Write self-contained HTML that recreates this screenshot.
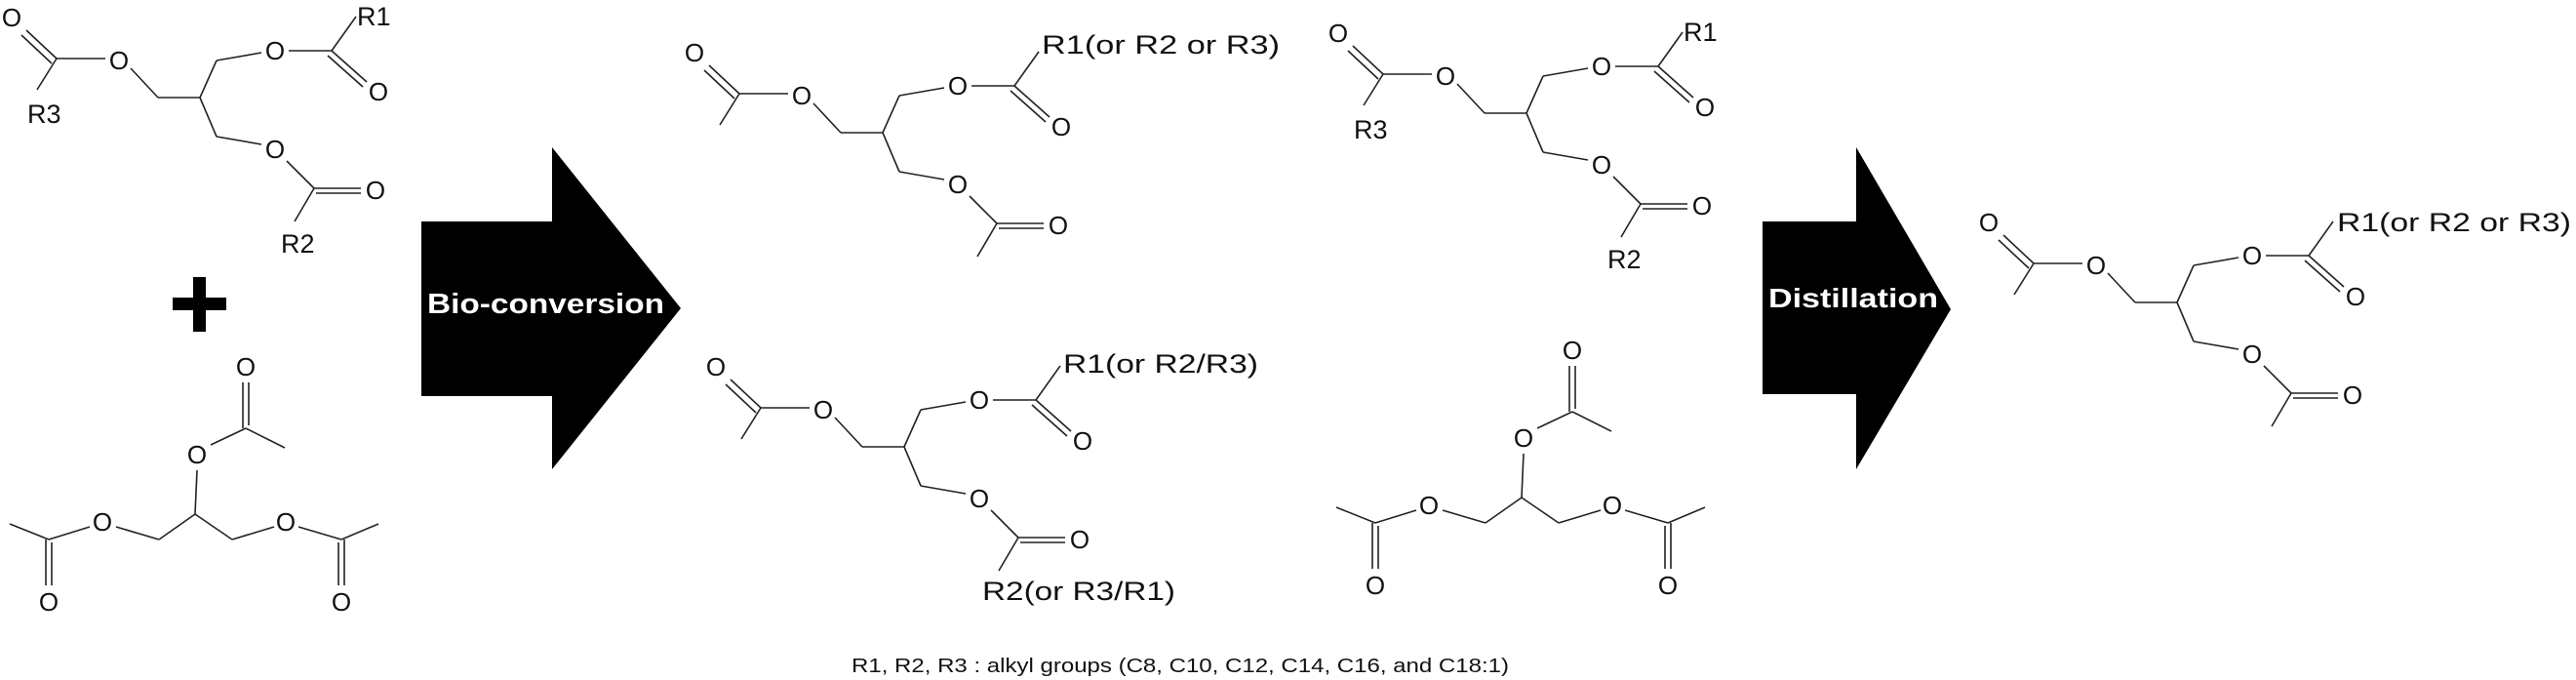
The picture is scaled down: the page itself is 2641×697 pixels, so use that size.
<!DOCTYPE html>
<html><head><meta charset="utf-8"><style>
html,body{margin:0;padding:0;background:#fff;}
svg{display:block;}
text{font-family:"Liberation Sans",sans-serif;fill:#111;}
.o{font-size:26px;text-anchor:middle;dominant-baseline:central;}
.r{font-size:27px;dominant-baseline:central;}
</style></head><body>
<svg width="2641" height="697" viewBox="0 0 2641 697" xmlns="http://www.w3.org/2000/svg">
<defs>
<g id="core" stroke="#222" stroke-width="1.6" fill="none">
  <line x1="58" y1="60" x2="27" y2="31"/><line x1="53" y1="65" x2="22" y2="36"/>
  <line x1="58" y1="60" x2="108" y2="60"/>
  <line x1="134" y1="70" x2="162" y2="100"/><line x1="162" y1="100" x2="205" y2="100"/>
  <line x1="205" y1="100" x2="222" y2="62"/><line x1="222" y1="62" x2="268" y2="54"/>
  <line x1="296" y1="52" x2="340" y2="52"/>
  <line x1="340" y1="52" x2="376" y2="84"/><line x1="336" y1="57" x2="372" y2="89"/>
  <line x1="205" y1="100" x2="222" y2="140"/><line x1="222" y1="140" x2="268" y2="148"/>
  <line x1="294" y1="165" x2="322" y2="193"/>
  <line x1="322" y1="193" x2="370" y2="193"/><line x1="324" y1="198" x2="370" y2="198"/>
  <line x1="340" y1="52" x2="365" y2="17"/>
  <line x1="58" y1="60" x2="38" y2="92"/>
  <line x1="322" y1="193" x2="302" y2="227"/>
</g>
<g id="tri" stroke="#222" stroke-width="1.6" fill="none">
  <line x1="249" y1="392" x2="249" y2="439"/><line x1="255" y1="392" x2="255" y2="436"/>
  <line x1="252" y1="439" x2="292" y2="459"/><line x1="252" y1="439" x2="216" y2="456"/>
  <line x1="202" y1="482" x2="200" y2="527"/>
  <line x1="200" y1="527" x2="163" y2="553"/><line x1="163" y1="553" x2="119" y2="540"/>
  <line x1="92" y1="540" x2="50" y2="553"/><line x1="50" y1="553" x2="10" y2="537"/>
  <line x1="47" y1="553" x2="47" y2="600"/><line x1="53" y1="556" x2="53" y2="600"/>
  <line x1="200" y1="527" x2="238" y2="553"/><line x1="238" y1="553" x2="281" y2="540"/>
  <line x1="306" y1="540" x2="350" y2="553"/><line x1="350" y1="553" x2="388" y2="537"/>
  <line x1="347" y1="556" x2="347" y2="600"/><line x1="353" y1="553" x2="353" y2="600"/>
</g>
</defs>

<!-- molecule 1 (top-left) -->
<g>
  <use href="#core"/>
  <text class="o" x="12" y="18">O</text><text class="o" x="122" y="62">O</text>
  <text class="o" x="282" y="52">O</text><text class="o" x="388" y="94">O</text>
  <text class="o" x="282" y="153">O</text><text class="o" x="385" y="195">O</text>
  <text class="r" x="28" y="117">R3</text>
  <text class="r" x="366" y="17">R1</text>
  <text class="r" x="288" y="250">R2</text>
</g>
<!-- plus -->
<rect x="177" y="305" width="55" height="13" fill="#000"/>
<rect x="198" y="284" width="13" height="56" fill="#000"/>
<!-- triacetin left -->
<g>
  <use href="#tri"/>
  <text class="o" x="252" y="376">O</text><text class="o" x="202" y="466">O</text>
  <text class="o" x="105" y="535">O</text><text class="o" x="293" y="535">O</text>
  <text class="o" x="50" y="617">O</text><text class="o" x="350" y="617">O</text>
</g>

<!-- arrow 1 -->
<polygon points="432,227 566,227 566,151 698,316 566,481 566,406 432,406" fill="#000"/>
<text x="438" y="321" font-size="29" font-weight="bold" style="fill:#fff" textLength="243" lengthAdjust="spacingAndGlyphs">Bio-conversion</text>

<!-- top-middle -->
<g transform="translate(700,36)">
  <use href="#core"/>
  <text class="o" x="12" y="18">O</text><text class="o" x="122" y="62">O</text>
  <text class="o" x="282" y="52">O</text><text class="o" x="388" y="94">O</text>
  <text class="o" x="282" y="153">O</text><text class="o" x="385" y="195">O</text>
</g>
<text class="r" x="1068" y="46" textLength="244" lengthAdjust="spacingAndGlyphs">R1(or R2 or R3)</text>

<!-- bottom-middle -->
<g transform="translate(722,358)">
  <use href="#core"/>
  <text class="o" x="12" y="18">O</text><text class="o" x="122" y="62">O</text>
  <text class="o" x="282" y="52">O</text><text class="o" x="388" y="94">O</text>
  <text class="o" x="282" y="153">O</text><text class="o" x="385" y="195">O</text>
</g>
<text class="r" x="1090" y="373" textLength="200" lengthAdjust="spacingAndGlyphs">R1(or R2/R3)</text>
<text class="r" x="1007" y="606" textLength="198" lengthAdjust="spacingAndGlyphs">R2(or R3/R1)</text>

<!-- top-right -->
<g transform="translate(1360,16)">
  <use href="#core"/>
  <text class="o" x="12" y="18">O</text><text class="o" x="122" y="62">O</text>
  <text class="o" x="282" y="52">O</text><text class="o" x="388" y="94">O</text>
  <text class="o" x="282" y="153">O</text><text class="o" x="385" y="195">O</text>
  <text class="r" x="28" y="117">R3</text>
  <text class="r" x="366" y="17">R1</text>
  <text class="r" x="288" y="250">R2</text>
</g>
<!-- triacetin right -->
<g transform="translate(1360,-17)">
  <use href="#tri"/>
  <text class="o" x="252" y="376">O</text><text class="o" x="202" y="466">O</text>
  <text class="o" x="105" y="535">O</text><text class="o" x="293" y="535">O</text>
  <text class="o" x="50" y="617">O</text><text class="o" x="350" y="617">O</text>
</g>

<!-- arrow 2 -->
<polygon points="1807,227 1903,227 1903,151 2000,317 1903,481 1903,404 1807,404" fill="#000"/>
<text x="1813" y="315" font-size="28" font-weight="bold" style="fill:#fff" textLength="174" lengthAdjust="spacingAndGlyphs">Distillation</text>

<!-- final product -->
<g transform="translate(2027,210)">
  <use href="#core"/>
  <text class="o" x="12" y="18">O</text><text class="o" x="122" y="62">O</text>
  <text class="o" x="282" y="52">O</text><text class="o" x="388" y="94">O</text>
  <text class="o" x="282" y="153">O</text><text class="o" x="385" y="195">O</text>
</g>
<text class="r" x="2396" y="228" textLength="240" lengthAdjust="spacingAndGlyphs">R1(or R2 or R3)</text>

<!-- caption -->
<text x="873" y="689" font-size="20" textLength="674" lengthAdjust="spacingAndGlyphs">R1, R2, R3 : alkyl groups (C8, C10, C12, C14, C16, and C18:1)</text>
</svg>
</body></html>
